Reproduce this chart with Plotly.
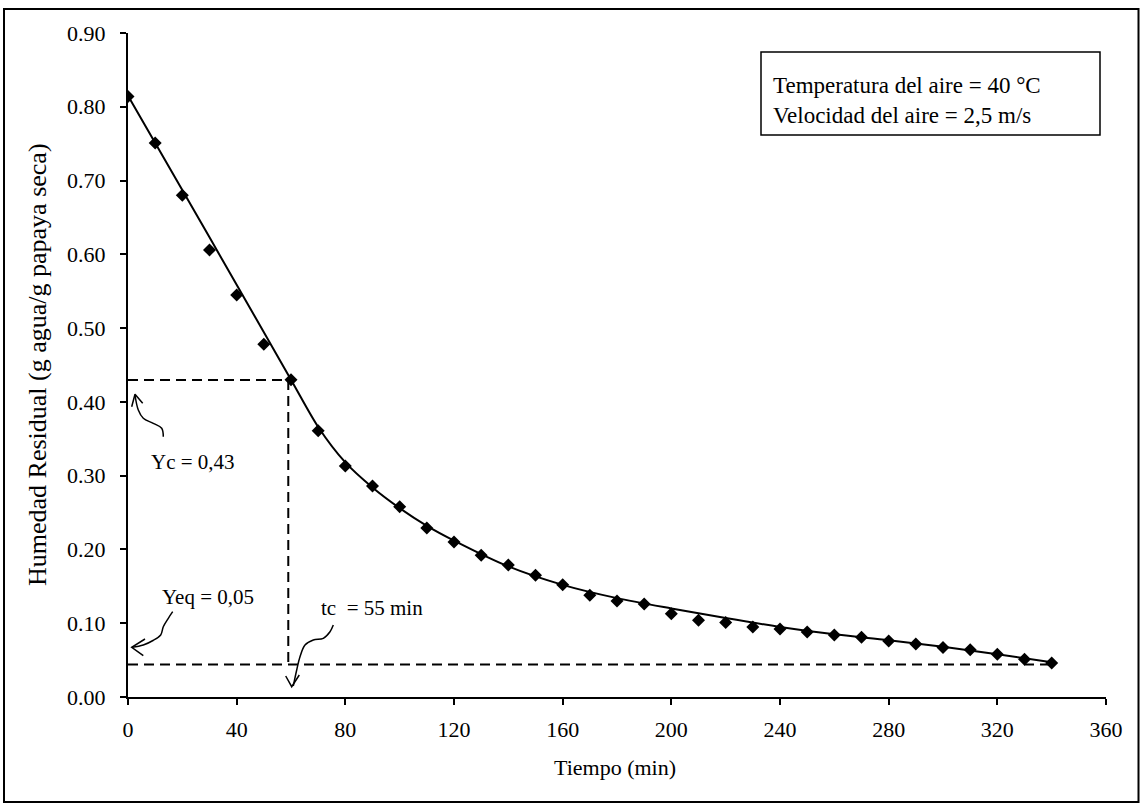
import plotly.graph_objects as go

# ---------------- data ----------------
tiempo = [0, 10, 20, 30, 40, 50, 60, 70, 80, 90, 100, 110, 120, 130, 140, 150, 160,
          170, 180, 190, 200, 210, 220, 230, 240, 250, 260, 270, 280, 290, 300, 310,
          320, 330, 340]
humedad = [0.814, 0.751, 0.680, 0.606, 0.545, 0.478, 0.430, 0.361, 0.313, 0.286, 0.258,
           0.229, 0.210, 0.192, 0.179, 0.165, 0.152, 0.138, 0.130, 0.126, 0.113, 0.104,
           0.101, 0.095, 0.092, 0.088, 0.084, 0.081, 0.076, 0.072, 0.067, 0.064, 0.058,
           0.051, 0.046]

ajuste_t = [0, 30, 60, 70, 80, 90, 100, 110, 120, 140, 160, 180, 200, 220, 240, 260,
            280, 300, 320, 340]
ajuste_y = [0.815, 0.623, 0.430, 0.366, 0.318, 0.284, 0.256, 0.232, 0.212, 0.177, 0.152,
            0.134, 0.120, 0.107, 0.095, 0.085, 0.077, 0.068, 0.058, 0.047]

yc = 0.4295
yeq = 0.0442
tc_linea = 59.0
t_fin = 340

x_ticks = [0, 40, 80, 120, 160, 200, 240, 280, 320, 360]
y_ticks = [0.0, 0.1, 0.2, 0.3, 0.4, 0.5, 0.6, 0.7, 0.8, 0.9]

# ---------------- geometry (pixels) ----------------
W, H = 1140, 805
L, R, T, B = 128, 34, 33, 108
PX0, PX1 = L, W - R
PY0, PY1 = T, H - B
XMAX, YMAX = 360, 0.9


def px(x, y):
    """pixel -> data coordinates"""
    return ((x - PX0) / (PX1 - PX0) * XMAX, (PY1 - y) / (PY1 - PY0) * YMAX)


def ppx(x):
    return (x - PX0) / (PX1 - PX0)


def ppy(y):
    return (PY1 - y) / (PY1 - PY0)


FONT = "Liberation Serif"
fig = go.Figure()

# fitted curve
fig.add_trace(go.Scatter(x=ajuste_t, y=ajuste_y, mode="lines",
                         line=dict(color="black", width=2, shape="spline", smoothing=0.8),
                         hoverinfo="skip", showlegend=False))
# experimental points
fig.add_trace(go.Scatter(x=tiempo, y=humedad, mode="markers",
                         marker=dict(symbol="diamond", size=10, color="black"),
                         showlegend=False))

dash = "10px,6px"
shapes = [
    dict(type="line", xref="x", yref="y", x0=0, x1=tc_linea, y0=yc, y1=yc,
         line=dict(color="black", width=2, dash=dash)),
    dict(type="line", xref="x", yref="y", x0=tc_linea, x1=tc_linea, y0=yc, y1=yeq,
         line=dict(color="black", width=2, dash=dash)),
    dict(type="line", xref="x", yref="y", x0=0, x1=t_fin, y0=yeq, y1=yeq,
         line=dict(color="black", width=2, dash=dash)),
    # info box
    dict(type="rect", xref="paper", yref="paper", x0=ppx(761), x1=ppx(1100),
         y0=ppy(135), y1=ppy(52), line=dict(color="black", width=1.5)),
    # outer frame
    dict(type="rect", xref="paper", yref="paper", x0=ppx(4), x1=ppx(1138.5),
         y0=ppy(802), y1=ppy(9), line=dict(color="black", width=2)),
]

# curly arrows (tails drawn as smooth lines, heads as chevrons)
arrows = [
    ([(163.3, 436.7), (161.7, 428.3), (153.3, 423.3), (143.3, 418.3), (138.3, 410), (135, 395)],
     [(131.7, 406.7), (135, 394.3), (142.7, 403.3)]),
    ([(172.7, 611.7), (168.3, 618.3), (163.3, 626.7), (160.7, 635), (153, 640.5), (143.3, 645), (132, 647.3)],
     [(145, 639), (131.7, 647.3), (143.3, 655.7)]),
    ([(333.3, 625), (330, 631.7), (323.3, 638.3), (313.3, 640), (305, 645), (300, 656.7), (296.7, 670), (293.3, 686)],
     [(285.7, 676), (291.7, 686.7), (299.3, 675)]),
]
for tail, head in arrows:
    tx, ty = zip(*[px(*p) for p in tail])
    fig.add_trace(go.Scatter(x=tx, y=ty, mode="lines",
                             line=dict(color="black", width=1.5, shape="spline"),
                             hoverinfo="skip", showlegend=False))
    hx, hy = zip(*[px(*p) for p in head])
    fig.add_trace(go.Scatter(x=hx, y=hy, mode="lines",
                             line=dict(color="black", width=1.5),
                             hoverinfo="skip", showlegend=False))

annotations = [
    dict(x=px(193, 462)[0], y=px(193, 462)[1], text="Yc = 0,43", showarrow=False,
         font=dict(family=FONT, size=21, color="black")),
    dict(x=px(208, 597)[0], y=px(208, 597)[1], text="Yeq = 0,05", showarrow=False,
         font=dict(family=FONT, size=21, color="black")),
    dict(x=px(371.7, 608)[0], y=px(371.7, 608)[1], text="tc  = 55 min", showarrow=False,
         font=dict(family=FONT, size=21, color="black")),
    dict(xref="paper", yref="paper", x=ppx(771), y=ppy(100), xanchor="left", yanchor="middle",
         align="left", showarrow=False,
         text="Temperatura del aire = 40 °C<br>Velocidad del aire = 2,5 m/s",
         font=dict(family=FONT, size=23, color="black")),
    dict(xref="paper", yref="paper", x=ppx(615), y=ppy(767), xanchor="center", yanchor="middle",
         showarrow=False, text="Tiempo (min)",
         font=dict(family=FONT, size=22, color="black")),
    dict(xref="paper", yref="paper", x=ppx(37), y=ppy(365), xanchor="center", yanchor="middle",
         textangle=-90, showarrow=False, text="Humedad Residual (g agua/g papaya seca)",
         font=dict(family=FONT, size=26, color="black")),
]

fig.update_layout(
    width=W, height=H,
    margin=dict(l=L, r=R, t=T, b=B),
    paper_bgcolor="white", plot_bgcolor="white",
    shapes=shapes, annotations=annotations,
    font=dict(family=FONT, size=21, color="black"),
    showlegend=False,
)
fig.update_xaxes(range=[0, XMAX], tickvals=x_ticks, ticktext=[str(v) for v in x_ticks],
                 showline=True, linecolor="black", linewidth=2, ticks="outside",
                 ticklen=6, tickwidth=2, tickcolor="black", showgrid=False, zeroline=False,
                 tickfont=dict(family=FONT, size=22, color="black"), ticklabelstandoff=6)
fig.update_yaxes(range=[0, YMAX], tickvals=y_ticks, ticktext=[f"{v:.2f}" for v in y_ticks],
                 showline=True, linecolor="black", linewidth=2, ticks="outside",
                 ticklen=6, tickwidth=2, tickcolor="black", showgrid=False, zeroline=False,
                 tickfont=dict(family=FONT, size=22, color="black"), ticklabelstandoff=10)

fig.write_html("out.html")
